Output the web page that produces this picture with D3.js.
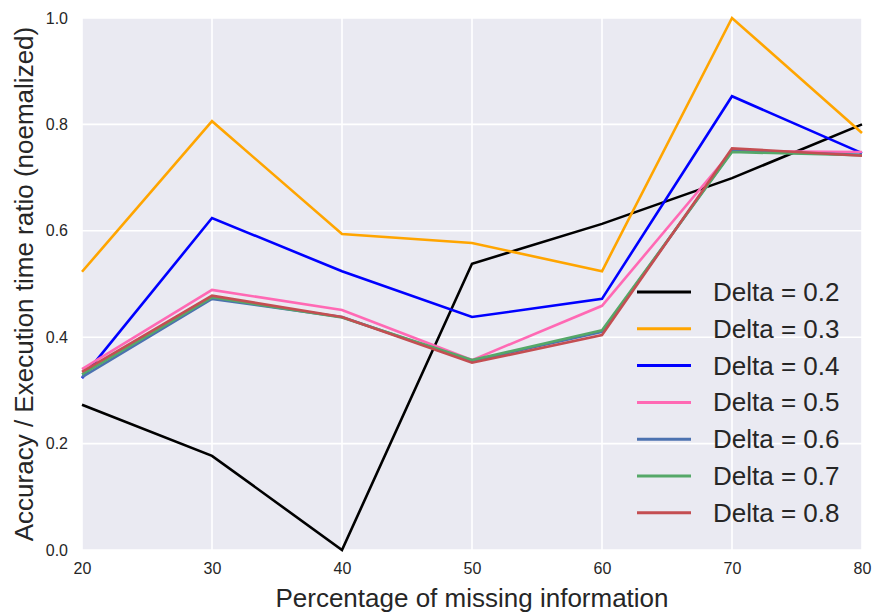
<!DOCTYPE html>
<html><head><meta charset="utf-8">
<script src="https://cdn.jsdelivr.net/npm/d3@7"></script>
<style>body{margin:0;background:#fff;} text{font-family:"Liberation Sans",Arial,sans-serif;}</style>
</head><body>
<svg id="c" width="873" height="615"></svg>
<script>
const xValues = [20, 30, 40, 50, 60, 70, 80];
const xTicks = [20, 30, 40, 50, 60, 70, 80];
const yTicks = [0.0, 0.2, 0.4, 0.6, 0.8, 1.0];
const seriesNames = ["Delta = 0.2","Delta = 0.3","Delta = 0.4","Delta = 0.5","Delta = 0.6","Delta = 0.7","Delta = 0.8"];
const seriesColors = ["#000000","#FFA500","#0000FF","#FF69B4","#4C72B0","#55A868","#C44E52"];
const d02 = [0.273, 0.177, 0.0, 0.538, 0.613, 0.699, 0.800];
const d03 = [0.523, 0.806, 0.594, 0.577, 0.524, 1.000, 0.784];
const d04 = [0.323, 0.624, 0.524, 0.438, 0.472, 0.853, 0.746];
const d05 = [0.340, 0.489, 0.451, 0.357, 0.459, 0.750, 0.748];
const d06 = [0.325, 0.472, 0.438, 0.355, 0.410, 0.750, 0.743];
const d07 = [0.330, 0.475, 0.437, 0.357, 0.413, 0.748, 0.742];
const d08 = [0.335, 0.478, 0.438, 0.352, 0.404, 0.755, 0.741];
const seriesValues = [d02, d03, d04, d05, d06, d07, d08];

const svg = d3.select("#c");
const m = {l: 82, t: 18, r: 873 - 862, b: 615 - 550};
const W = 873 - m.l - m.r, H = 615 - m.t - m.b;
const g = svg.append("g").attr("transform", `translate(${m.l},${m.t})`);
const x = d3.scaleLinear().domain([20, 80]).range([0, W]);
const y = d3.scaleLinear().domain([0, 1]).range([H, 0]);

g.append("rect").attr("width", W).attr("height", H).attr("fill", "#EAEAF2");
g.selectAll(".gx").data(xTicks).join("line")
  .attr("x1", d => x(d)).attr("x2", d => x(d)).attr("y1", 0).attr("y2", H)
  .attr("stroke", "#fff").attr("stroke-width", 1.6);
g.selectAll(".gy").data(yTicks).join("line")
  .attr("y1", d => y(d)).attr("y2", d => y(d)).attr("x1", 0).attr("x2", W)
  .attr("stroke", "#fff").attr("stroke-width", 1.6);

const xAxis = g.append("g").attr("transform", `translate(0,${H})`)
  .call(d3.axisBottom(x).tickValues(xTicks).tickFormat(d3.format("d")).tickSize(0).tickPadding(13));
const yAxis = g.append("g")
  .call(d3.axisLeft(y).tickValues(yTicks).tickFormat(d3.format(".1f")).tickSize(0).tickPadding(14));
[xAxis, yAxis].forEach(a => {
  a.select(".domain").remove();
  a.selectAll("text").attr("font-size", 16).attr("fill", "#262626")
    .attr("font-family", "'Liberation Sans', Arial, sans-serif");
});

const line = d3.line().x((d, i) => x(xValues[i])).y(d => y(d));
seriesValues.forEach((vals, k) => {
  g.append("path").datum(vals).attr("d", line).attr("fill", "none")
    .attr("stroke", seriesColors[k]).attr("stroke-width", 2.6).attr("stroke-linejoin", "miter");
});

// legend
const lg = g.append("g").attr("transform", `translate(${637 - m.l},${292 - m.t})`);
seriesNames.forEach((n, k) => {
  const row = lg.append("g").attr("transform", `translate(0,${k * 36.8})`);
  row.append("line").attr("x1", 0).attr("x2", 54).attr("stroke", seriesColors[k]).attr("stroke-width", 3);
  row.append("text").attr("x", 76).attr("y", 9).attr("font-size", 26).attr("fill", "#262626").text(n);
});

svg.append("text").attr("x", m.l + W / 2).attr("y", 607).attr("text-anchor", "middle")
  .attr("font-size", 26).attr("fill", "#262626").text("Percentage of missing information");
svg.append("text").attr("transform", `translate(33,${m.t + H / 2}) rotate(-90)`).attr("text-anchor", "middle")
  .attr("font-size", 26).attr("fill", "#262626").text("Accuracy / Execution time ratio (noemalized)");
</script>
</body></html>
